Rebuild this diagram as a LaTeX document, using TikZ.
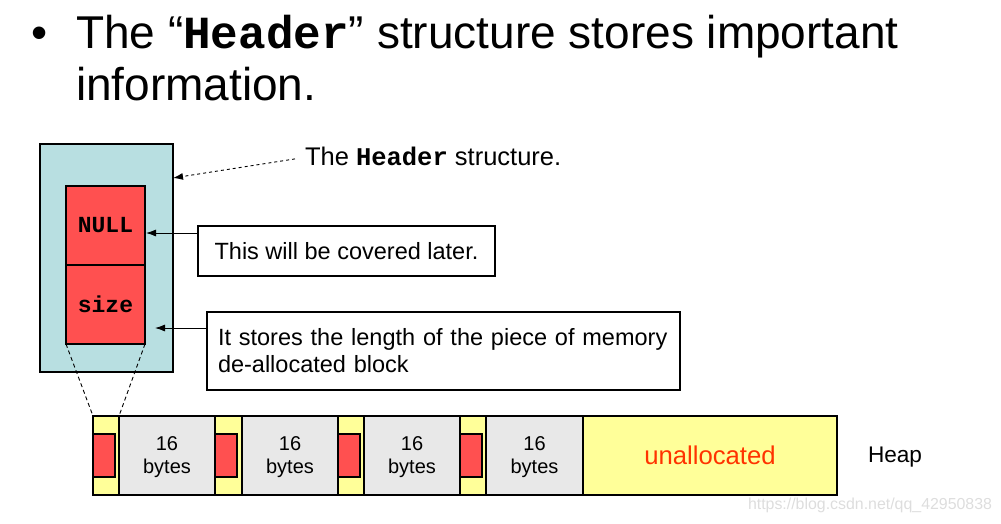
\documentclass[tikz,border=0pt]{standalone}
\usepackage{fontspec}
\setmainfont{Liberation Sans}
\newfontfamily\monofont{Liberation Mono}
\usetikzlibrary{arrows.meta,calc}
\definecolor{tealbg}{HTML}{B8DFE1}
\definecolor{redbox}{HTML}{FF5050}
\definecolor{yellowbox}{HTML}{FFFF99}
\definecolor{greybox}{HTML}{E8E8E8}
\definecolor{unred}{HTML}{FF3300}
\definecolor{wmark}{HTML}{DDDDDD}
\begin{document}
\begin{tikzpicture}[x=1pt,y=-1pt,
  box/.style={draw=black,line width=1.2pt,inner sep=0pt,outer sep=0pt},
  txt/.style={inner sep=0pt,outer sep=0pt,anchor=base west},
  arr/.style={line width=0.9pt,-{Latex[length=10pt,width=7pt]}},
  dsh/.style={line width=0.9pt,dash pattern=on 4pt off 3pt},
  cell/.style={box,anchor=north west,minimum height=79pt},
  ycell/.style={cell,fill=yellowbox},
  gcell/.style={cell,fill=greybox,align=center,text depth=0pt,font=\fontsize{20}{23}\selectfont},
  rcell/.style={box,fill=redbox,anchor=north west,minimum width=22pt,minimum height=43pt},
  field/.style={box,fill=redbox,anchor=north west,minimum width=79pt,minimum height=79pt,font=\monofont\bfseries\fontsize{23}{23}\selectfont}]

\useasboundingbox (0,0) rectangle (1001,523);

% title
\node[txt,font=\fontsize{46}{52}\selectfont] (bul) at (31,48) {•};
\node[txt,font=\fontsize{46}{52}\selectfont] (t1) at (76,48) {The “{\monofont\bfseries Header}” structure stores important};
\node[txt,font=\fontsize{46}{52}\selectfont] (t2) at (76,100) {information.};

% header structure
\node[box,fill=tealbg,anchor=north west,minimum width=133pt,minimum height=228pt] (hb) at (40,144) {};
\node[field] (nl) at (66,186) {NULL};
\node[field] (sz) at (66,265) {size};

\node[txt,font=\fontsize{25.5}{30}\selectfont] (hdr) at (305,165) {The {\monofont\bfseries Header} structure.};
\coordinate (a0) at (173,178);
\draw[arr,dashed] ($(hdr.west)+(-10,3)$) -- (a0);

\node[box,anchor=north west,minimum width=297pt,minimum height=50pt,font=\fontsize{23.5}{27}\selectfont] (c1) at (198,226) {This will be covered later.};
\coordinate (a1) at (146,233);
\draw[arr] (c1.west |- a1) -- (a1);

\node[box,anchor=north west,minimum width=473pt,minimum height=78pt,text width=451pt,align=left,inner xsep=11pt,font=\fontsize{23.5}{27}\selectfont] (c2) at (207,312) {It stores the length of the piece of memory\\de-allocated block};
\coordinate (a2) at (155,328);
\draw[arr] (c2.west |- a2) -- (a2);

% heap strip
\node[ycell,minimum width=26pt] (y1) at (93,416) {};
\node[gcell,minimum width=96pt] (g1) at (119,416) {16\\bytes};
\node[ycell,minimum width=27pt] (y2) at (215,416) {};
\node[gcell,minimum width=96pt] (g2) at (242,416) {16\\bytes};
\node[ycell,minimum width=26pt] (y3) at (338,416) {};
\node[gcell,minimum width=96pt] (g3) at (364,416) {16\\bytes};
\node[ycell,minimum width=26pt] (y4) at (460,416) {};
\node[gcell,minimum width=97pt] (g4) at (486,416) {16\\bytes};
\node[ycell,minimum width=254pt,text=unred,font=\fontsize{25.7}{30}\selectfont] (un) at (583,416) {unallocated};

\node[rcell] (r1) at ($(y1.north west)+(0,18)$) {};
\node[rcell] (r2) at ($(y2.north west)+(0,18)$) {};
\node[rcell] (r3) at ($(y3.north west)+(0,18)$) {};
\node[rcell] (r4) at ($(y4.north west)+(0,18)$) {};

\draw[dsh] (sz.south west) -- (y1.north west);
\draw[dsh] (sz.south east) -- (y1.north east);

\node[txt,font=\fontsize{22.6}{26}\selectfont] (heap) at (868,462) {Heap};

\node[txt,text=wmark,font=\fontsize{15.9}{18}\selectfont] (wm) at (748,509) {https://blog.csdn.net/qq\_42950838};
\end{tikzpicture}
\end{document}
